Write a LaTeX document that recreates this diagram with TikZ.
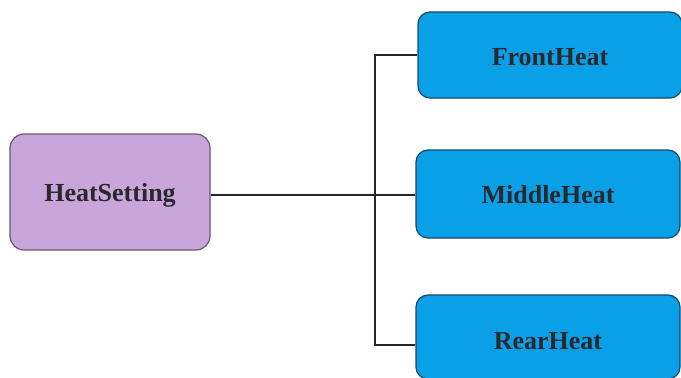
\documentclass[tikz,border=0pt]{standalone}
\usepackage{fontspec}
\setmainfont{Liberation Serif}
\definecolor{purfill}{RGB}{201,166,218}
\definecolor{purdraw}{RGB}{105,90,115}
\definecolor{bluefill}{RGB}{10,160,232}
\definecolor{bluedraw}{RGB}{25,70,105}
\definecolor{txt}{RGB}{40,40,45}
\begin{document}
\begin{tikzpicture}[x=1pt,y=-1pt,
  lbl/.style={text=txt,font=\fontsize{26}{26}\bfseries\selectfont,text depth=0pt},
  parent/.style={lbl,draw=purdraw,line width=1.2pt,fill=purfill,rounded corners=14pt,
    minimum width=200pt,minimum height=116pt,inner sep=0pt},
  child/.style={lbl,draw=bluedraw,line width=1.2pt,fill=bluefill,rounded corners=12pt,
    minimum width=264pt,inner sep=0pt},
  conn/.style={line width=2pt,draw=black!85}]
\useasboundingbox (0,0) rectangle (681,378);
\fill[white] (0,0) rectangle (681,378);
\node[parent] (hs) at (110,192) {HeatSetting};
\node[child,minimum height=86pt] (front) at (550,55) {\raisebox{-4pt}{FrontHeat}};
\node[child,minimum height=88pt] (mid) at (548,194) {\raisebox{-1pt}{MiddleHeat}};
\node[child,minimum height=84pt] (rear) at (548,337) {\raisebox{-8pt}{RearHeat}};
\coordinate (jx) at (375,195);
\draw[conn] (hs.east |- jx) -- (jx -| mid.west);
\draw[conn] (front.west) -| (jx) |- (rear.west |- 0,345);
\end{tikzpicture}
\end{document}
